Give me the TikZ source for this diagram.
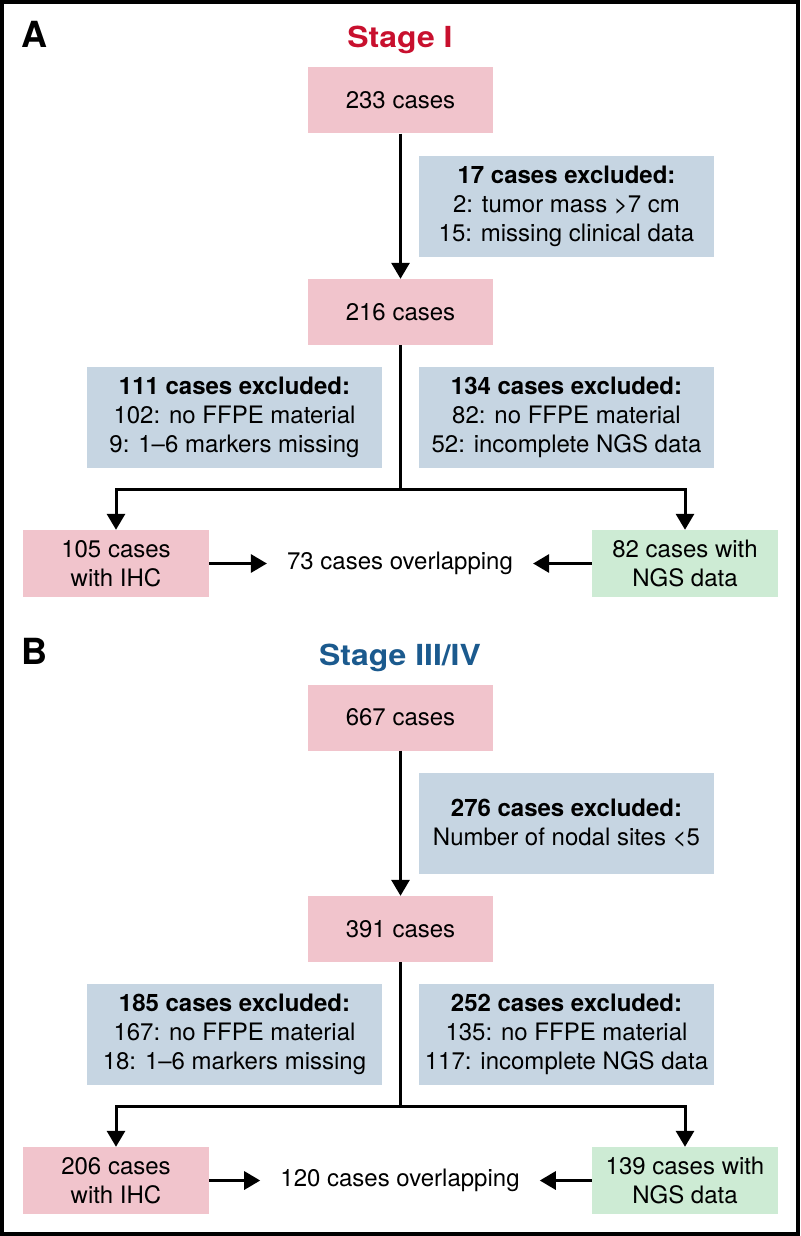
\documentclass[tikz,border=0pt]{standalone}
\usepackage{fontspec}
\setmainfont{TeX Gyre Heros}
\newfontfamily\titlefont[FakeStretch=1.1]{TeX Gyre Heros}
\usetikzlibrary{arrows.meta}
\definecolor{pinkbox}{HTML}{F1C4CC}
\definecolor{bluebox}{HTML}{C6D5E2}
\definecolor{greenbox}{HTML}{CDEBD4}
\definecolor{titlered}{HTML}{C8102E}
\definecolor{titleblue}{HTML}{1B5A8E}
\tikzset{
  boxtext/.style={font=\fontsize{24}{29}\selectfont, align=center, inner sep=0pt},
  casebox/.style={boxtext, fill=pinkbox, minimum width=185pt, minimum height=66pt},
  exbox/.style={boxtext, fill=bluebox, minimum width=295pt, minimum height=101pt},
  endbox/.style={boxtext, minimum width=186pt, minimum height=67pt},
  ovtext/.style={boxtext, inner xsep=20pt},
  flow/.style={line width=3pt},
  arr/.style={flow, -{Triangle[width=18pt,length=16pt]}},
  panellabel/.style={font=\fontsize{36}{36}\selectfont\bfseries, inner sep=0pt, anchor=base west},
  stagetitle/.style={font=\titlefont\fontsize{29}{29}\selectfont\bfseries, inner sep=0pt, anchor=base},
}
\begin{document}
\begin{tikzpicture}[x=1pt,y=-1pt]
\useasboundingbox (0,0) rectangle (800,1236);
\draw[line width=4pt] (2,2) rectangle (798,1234);

% ---------- Panel A ----------
\node[panellabel] (labA) at (21,48) {A};
\node[stagetitle, text=titlered] (titA) at (400,48) {Stage I};
\node[casebox] (n233) at (400.5,100.5) {233 cases};
\node[exbox] (ex17) at (566.5,206.5) {\textbf{17 cases excluded:}\\2: tumor mass >7 cm\\15: missing clinical data};
\node[casebox] (n216) at (400.5,312) {216 cases};
\node[exbox] (ex111) at (234.5,417.5) {\textbf{111 cases excluded:}\\102: no FFPE material\\9: 1–6 markers missing};
\node[exbox] (ex134) at (566.5,417.5) {\textbf{134 cases excluded:}\\82: no FFPE material\\52: incomplete NGS data};
\coordinate (splitA) at (400.5,489);
\node[endbox, fill=pinkbox] (n105) at (116,563.5) {105 cases\\with IHC};
\node[endbox, fill=greenbox] (n82) at (685,563.5) {82 cases with\\NGS data};
\node[ovtext] (ov73) at (400,563.5) {73 cases overlapping};

\draw[arr] (n233) -- (n216);
\draw[arr] (n216.south) -- (splitA) -| (n105.north);
\draw[arr] (n216.south) -- (splitA) -| (n82.north);
\draw[arr] (n105) -- (ov73);
\draw[arr] (n82) -- (ov73);

% ---------- Panel B ----------
\node[panellabel] (labB) at (21,664) {B};
\node[stagetitle, text=titleblue] (titB) at (400,665) {Stage III/IV};
\node[casebox] (n667) at (400.5,717.5) {667 cases};
\node[exbox] (ex276) at (566.5,823.5) {\textbf{276 cases excluded:}\\Number of nodal sites <5};
\node[casebox] (n391) at (400.5,929) {391 cases};
\node[exbox] (ex185) at (234.5,1034.5) {\textbf{185 cases excluded:}\\167: no FFPE material\\18: 1–6 markers missing};
\node[exbox] (ex252) at (566.5,1034.5) {\textbf{252 cases excluded:}\\135: no FFPE material\\117: incomplete NGS data};
\coordinate (splitB) at (400.5,1106);
\node[endbox, fill=pinkbox] (n206) at (116,1180.5) {206 cases\\with IHC};
\node[endbox, fill=greenbox] (n139) at (685,1180.5) {139 cases with\\NGS data};
\node[ovtext] (ov120) at (400,1180.5) {120 cases overlapping};

\draw[arr] (n667) -- (n391);
\draw[arr] (n391.south) -- (splitB) -| (n206.north);
\draw[arr] (n391.south) -- (splitB) -| (n139.north);
\draw[arr] (n206) -- (ov120);
\draw[arr] (n139) -- (ov120);
\end{tikzpicture}
\end{document}
